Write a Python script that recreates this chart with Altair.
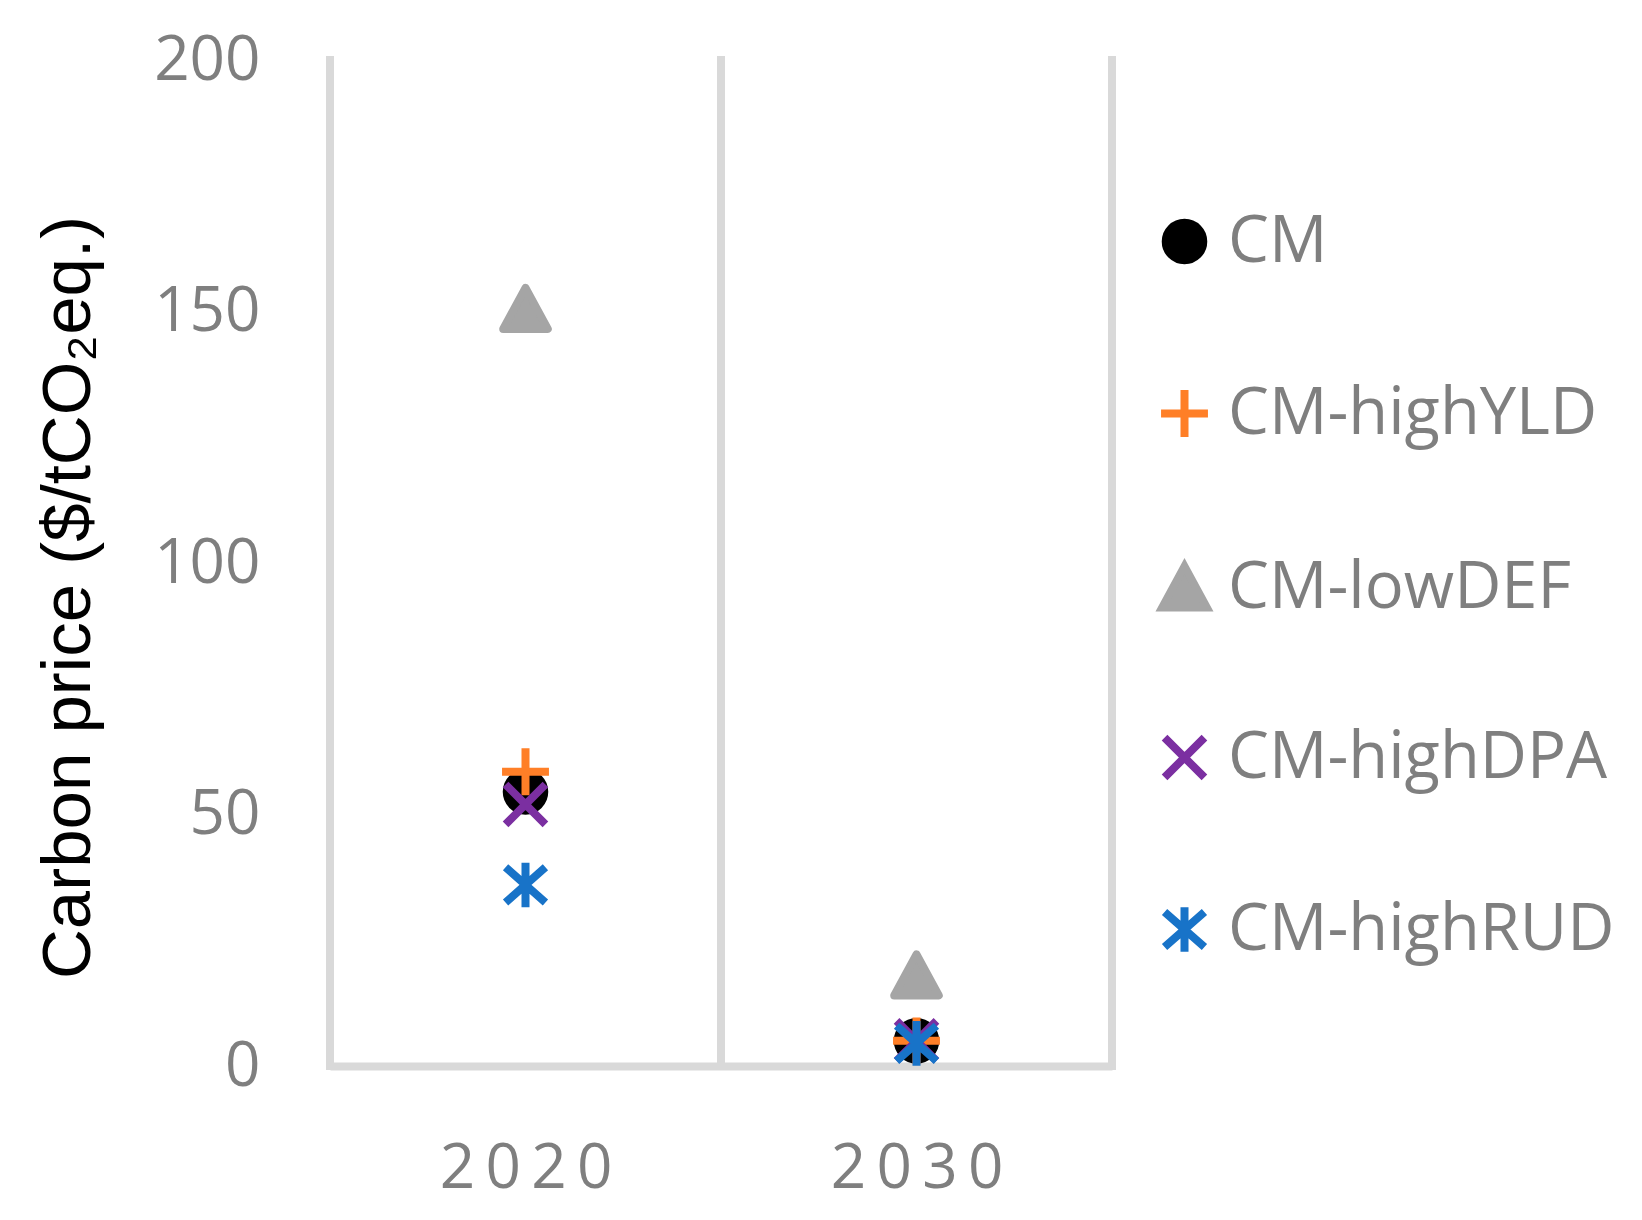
import altair as alt
import pandas as pd

years = [2020, 2030]
series = ["CM", "CM-highYLD", "CM-lowDEF", "CM-highDPA", "CM-highRUD"]
values = {
    "CM": [54.5, 5.0],
    "CM-highYLD": [58.5, 5.0],
    "CM-lowDEF": [150.5, 18.0],
    "CM-highDPA": [52.0, 5.0],
    "CM-highRUD": [36.0, 4.5],
}
colors = ["#000000", "#FF7F27", "#A5A5A5", "#7B2FA1", "#1873C8"]
shapes = [
    "M0.8,0A0.8,0.8,0,1,1,-0.8,0A0.8,0.8,0,1,1,0.8,0Z",
    "M-1,0L1,0M0,-1L0,1",
    "M0,-0.9L0.95,0.85L-0.95,0.85Z",
    "M-0.85,-0.85L0.85,0.85M-0.85,0.85L0.85,-0.85",
    "M-0.85,-0.75L0.85,0.75M-0.85,0.75L0.85,-0.75M0,-0.95L0,0.95",
]
boundaries = [2015, 2025, 2035]
y_ticks = [0, 50, 100, 150, 200]
x_labels = ["2020", "2030"]

rows = []
for s in series:
    for yr, v in zip(years, values[s]):
        rows.append({"year": yr, "series": s, "price": v})
df = pd.DataFrame(rows)
bdf = pd.DataFrame({"b": boundaries})

sp = "\u2009"
label_expr = " : ".join(
    [f"datum.value == {yr} ? '{sp.join(list(lbl))}'" for yr, lbl in zip(years, x_labels)]
) + " : ''"

GRID = "#D9D9D9"
LBL = "#7F7F7F"

xscale = alt.Scale(domain=[2015, 2035], nice=False, zero=False)
yscale = alt.Scale(domain=[0, 200], nice=False)

rules = alt.Chart(bdf).mark_rule(color=GRID, strokeWidth=8, strokeCap="square").encode(
    x=alt.X("b:Q", scale=xscale)
)

leg = alt.Legend(
    title=None,
    orient="none",
    legendX=822,
    legendY=149,
    labelFont="Open Sans",
    labelFontSize=65,
    labelColor=LBL,
    labelOffset=11,
    symbolSize=2200,
    symbolStrokeWidth=8,
    rowPadding=97,
    padding=0,
    labelLimit=600,
)

pts = alt.Chart(df).mark_point(filled=True, size=2200, strokeWidth=8, opacity=1, strokeJoin="round").encode(
    x=alt.X(
        "year:Q",
        scale=xscale,
        axis=alt.Axis(
            values=years,
            labelExpr=label_expr,
            title=None,
            grid=False,
            ticks=False,
            domainColor=GRID,
            domainWidth=8,
            labelFont="Open Sans",
            labelFontSize=62,
            labelColor=LBL,
            labelPadding=72,
        ),
    ),
    y=alt.Y(
        "price:Q",
        scale=yscale,
        axis=alt.Axis(
            values=y_ticks,
            title="Carbon price ($/tCO\u2082eq.)",
            titleFont="Liberation Sans",
            titleFontSize=69,
            titleFontWeight="normal",
            titleColor="#000000",
            titleAngle=270,
            titleAlign="center",
            titleBaseline="middle",
            titleX=-262,
            titleY=537,
            grid=False,
            ticks=False,
            domain=False,
            labelFont="Open Sans",
            labelFontSize=62,
            labelColor=LBL,
            labelPadding=70,
            labelBaseline="middle",
        ),
    ),
    fill=alt.Fill("series:N", scale=alt.Scale(domain=series, range=colors), legend=leg, sort=series),
    stroke=alt.Stroke("series:N", scale=alt.Scale(domain=series, range=colors), legend=leg, sort=series),
    shape=alt.Shape("series:N", scale=alt.Scale(domain=series, range=shapes), legend=leg, sort=series),
)

chart = (
    alt.layer(rules, pts)
    .properties(
        width=782,
        height=1006,
        autosize="none",
        padding={"left": 322, "top": 52, "right": 520, "bottom": 140},
    )
    .configure_view(stroke=None)
)

chart.save("out.html", embed_options={"renderer": "svg", "actions": False})
